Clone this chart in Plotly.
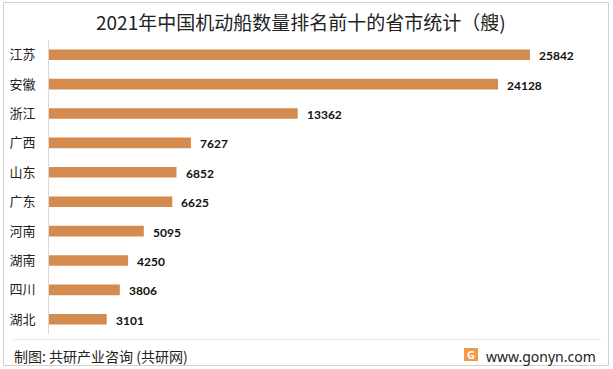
import plotly.graph_objects as go

provinces = ["江苏", "安徽", "浙江", "广西", "山东", "广东", "河南", "湖南", "四川", "湖北"]
ships = [25842, 24128, 13362, 7627, 6852, 6625, 5095, 4250, 3806, 3101]

title = "2021年中国机动船数量排名前十的省市统计（艘)"
source = "制图: 共研产业咨询 (共研网)"
site = "www.gonyn.com"

cjk = "Noto Sans CJK SC"
bar_color = "#D48B4F"

fig = go.Figure()
fig.add_trace(go.Bar(
    y=provinces, x=ships, orientation="h",
    marker=dict(color=bar_color, line=dict(width=0)),
    width=0.36, hoverinfo="skip",
))

for p, v in zip(provinces, ships):
    fig.add_annotation(x=v, y=p, text=f"<b>{v}</b>", showarrow=False,
                       xanchor="left", xshift=7, yshift=-1,
                       font=dict(family="Lato, Noto Sans", size=12, color="#111111"))

W, H = 613, 369
L, R, T, B = 49, 28, 40, 35
PW, PH = W - L - R, H - T - B
fig.update_layout(
    width=W, height=H,
    margin=dict(l=L, r=R, t=T, b=B, pad=0, autoexpand=False),
    paper_bgcolor="white", plot_bgcolor="white",
    showlegend=False,
    xaxis=dict(range=[0, 28800], visible=False, fixedrange=True, automargin=False),
    yaxis=dict(autorange="reversed", showgrid=False, zeroline=False,
               showline=True, linecolor="#D9D9D9", linewidth=1,
               ticks="", ticklabelstandoff=10, automargin=False,
               tickfont=dict(family=cjk, size=13, color="#222222"),
               fixedrange=True),
    font=dict(family=cjk),
)

def px(x):
    return (x - L) / PW

def py(y):
    return (H - B - y) / PH

fig.add_annotation(text=title, xref="paper", yref="paper",
                   x=px(301), y=py(22),
                   xanchor="center", yanchor="middle", showarrow=False,
                   font=dict(family=cjk, size=19, color="#222222"))

# frame, separator
fig.add_shape(type="rect", xref="paper", yref="paper",
              x0=px(3.5), x1=px(608.5), y0=py(365.5), y1=py(2.5),
              line=dict(color="#D0D0D0", width=1), fillcolor="rgba(0,0,0,0)", layer="below")
fig.add_shape(type="line", xref="paper", yref="paper",
              x0=px(13), x1=px(601), y0=py(339.5), y1=py(339.5),
              line=dict(color="#E6E6E6", width=1))

fy = py(356)
fig.add_annotation(text=source, xref="paper", yref="paper",
                   x=px(12), y=fy, xanchor="left", yanchor="middle",
                   showarrow=False, font=dict(family=cjk, size=14, color="#222222"))
fig.add_annotation(text=site, xref="paper", yref="paper",
                   x=px(598), y=fy, xanchor="right", yanchor="middle",
                   showarrow=False, font=dict(family="Noto Sans", size=14, color="#222222"))
# logo
fig.add_shape(type="rect", xref="paper", yref="paper",
              x0=px(464), x1=px(478), y0=py(361), y1=py(348),
              line=dict(width=0), fillcolor="#F39A4A")
fig.add_annotation(text="<b>G</b>", xref="paper", yref="paper",
                   x=px(471), y=py(354.5), xanchor="center", yanchor="middle",
                   showarrow=False, font=dict(family="Noto Sans", size=11, color="white"))

fig.write_html("out.html", config={"displayModeBar": False},
               post_script="document.body.style.margin='0';")
